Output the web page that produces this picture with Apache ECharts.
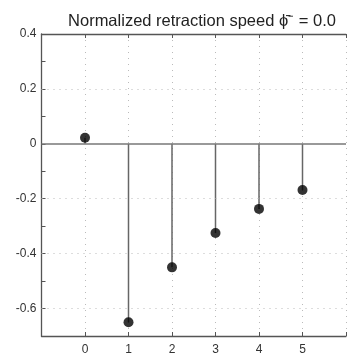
<!DOCTYPE html>
<html>
<head>
<meta charset="utf-8">
<script src="https://cdn.jsdelivr.net/npm/echarts@6/dist/echarts.min.js"></script>
<style>
  html, body { margin: 0; padding: 0; background: #fff; }
  #chart { width: 349px; height: 357px; }
</style>
</head>
<body>
<div id="chart"></div>
<script>
const xValues = [0, 1, 2, 3, 4, 5];
const yValues = [0.022, -0.65, -0.45, -0.325, -0.237, -0.168];
const xTicks = [0, 1, 2, 3, 4, 5];
const yGridLines = [0.2, -0.2, -0.4, -0.6];
const yLabels = [0.4, 0.2, 0, -0.2, -0.4, -0.6];

const points = xValues.map((x, i) => [x, yValues[i]]);
const axisColor = '#555';
const font = 'Liberation Sans, Arial, sans-serif';

const chart = echarts.init(document.getElementById('chart'));

const options = {
  animation: false,
  title: {
    text: 'Normalized retraction speed ϕ̄⁻ = 0.0',
    left: 197,
    textAlign: 'center',
    top: 8,
    textStyle: { fontFamily: font, fontSize: 16.5, fontWeight: 'normal', color: '#222' },
  },
  grid: { left: 41.5, top: 34, bottom: 21, right: -9 },
  xAxis: [
    {
      type: 'value',
      min: -1,
      max: 6,
      interval: 1,
      axisLine: { onZero: false, lineStyle: { color: axisColor, width: 1.3 } },
      axisTick: { inside: true, length: 4, lineStyle: { color: axisColor } },
      axisLabel: {
        color: '#333',
        fontFamily: font,
        fontSize: 12,
        margin: 8,
        formatter: v => (xTicks.includes(v) ? String(v) : ''),
      },
      splitLine: { lineStyle: { color: '#bbb', type: [1, 5], width: 1 } },
    },
    {
      type: 'value',
      position: 'top',
      min: -1,
      max: 6,
      interval: 1,
      axisLine: { onZero: false, lineStyle: { color: axisColor, width: 1.3 } },
      axisTick: { inside: true, length: 4, lineStyle: { color: axisColor } },
      axisLabel: { show: false },
      splitLine: { show: false },
    },
  ],
  yAxis: {
    type: 'value',
    min: -0.7,
    max: 0.4,
    interval: 0.1,
    axisLine: { show: true, onZero: false, lineStyle: { color: axisColor, width: 1.3 } },
    axisTick: { show: true, inside: true, length: 4, lineStyle: { color: axisColor } },
    axisLabel: {
      color: '#333',
      fontFamily: font,
      fontSize: 12,
      margin: 5,
      formatter: v => {
        const r = Math.round(v * 10) / 10;
        return yLabels.some(l => Math.abs(l - r) < 1e-9) ? String(r) : '';
      },
    },
    splitLine: { show: false },
  },
  series: [
    {
      type: 'bar',
      data: points,
      barWidth: 1.5,
      itemStyle: { color: '#666' },
      silent: true,
      markLine: {
        symbol: 'none',
        silent: true,
        label: { show: false },
        data: [
          ...yGridLines.map(v => ({ yAxis: v, lineStyle: { color: '#bbb', type: [1, 5], width: 1 } })),
          { yAxis: 0, lineStyle: { color: '#777', type: 'solid', width: 1.5 } },
        ],
      },
    },
    {
      type: 'scatter',
      data: points,
      symbol: 'circle',
      symbolSize: 10,
      itemStyle: { color: '#000' },
      z: 5,
    },
  ],
};

chart.setOption(options);
</script>
</body>
</html>
